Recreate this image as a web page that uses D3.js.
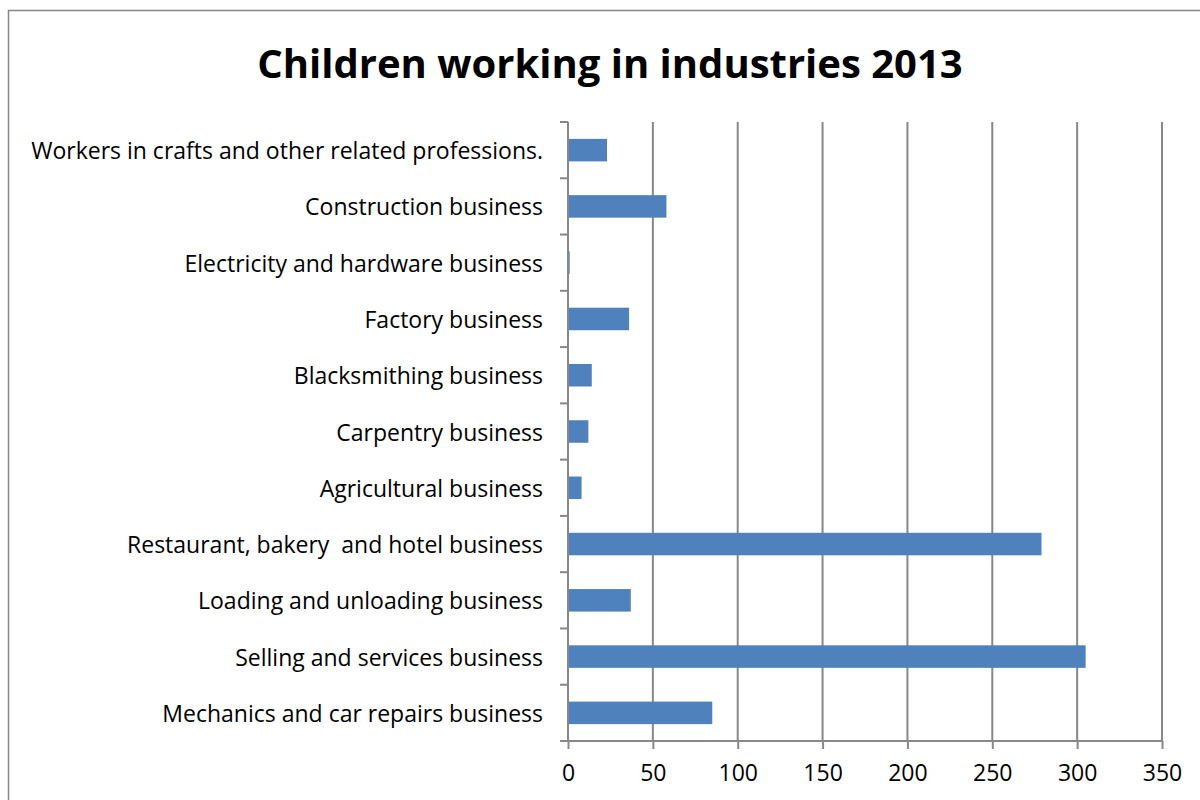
<!DOCTYPE html>
<html>
<head>
<meta charset="utf-8">
<script src="https://cdn.jsdelivr.net/npm/d3@7"></script>
<style>
  body { margin: 0; background: #fff; }
  svg { display: block; }
  text { white-space: pre; }
</style>
</head>
<body>
<div id="chart"></div>
<script>
// categories listed top to bottom as in the chart
const categories = [
  "Workers in crafts and other related professions.",
  "Construction business",
  "Electricity and hardware business",
  "Factory business",
  "Blacksmithing business",
  "Carpentry business",
  "Agricultural business",
  "Restaurant, bakery  and hotel business",
  "Loading and unloading business",
  "Selling and services business",
  "Mechanics and car repairs business"
];
const values = [23, 58, 1, 36, 14, 12, 8, 279, 37, 305, 85];
const xTicks = [0, 50, 100, 150, 200, 250, 300, 350];
const title = "Children working in industries 2013";

const width = 1200, height = 800;
const margin = { top: 122, right: 38, bottom: 59, left: 568 };
const font = "'Open Sans', Lato, sans-serif";

const svg = d3.select("#chart")
  .append("svg")
  .attr("width", width)
  .attr("height", height);

// outer chart frame (runs off the right and bottom edges)
svg.append("rect")
  .attr("x", 8.5)
  .attr("y", 10.5)
  .attr("width", 1300)
  .attr("height", 900)
  .attr("fill", "none")
  .attr("stroke", "#868686")
  .attr("stroke-width", 1.5);

svg.append("text")
  .attr("x", 610)
  .attr("y", 78)
  .attr("text-anchor", "middle")
  .style("font-family", font)
  .style("font-size", "40px")
  .style("font-weight", "bold")
  .text(title);

const x = d3.scaleLinear()
  .domain([0, 350])
  .range([margin.left, width - margin.right]);

const y = d3.scaleBand()
  .domain(categories)
  .range([margin.top, height - margin.bottom])
  .paddingInner(0.6)
  .paddingOuter(0.3);

const plotBottom = height - margin.bottom;

// vertical gridlines
svg.append("g")
  .selectAll("line")
  .data(xTicks.slice(1))
  .enter()
  .append("line")
  .attr("x1", d => x(d))
  .attr("x2", d => x(d))
  .attr("y1", margin.top)
  .attr("y2", plotBottom)
  .attr("stroke", "#888")
  .attr("stroke-width", 2);

// bars
svg.append("g")
  .selectAll("rect")
  .data(values)
  .enter()
  .append("rect")
  .attr("x", x(0))
  .attr("y", (d, i) => y(categories[i]))
  .attr("width", d => x(d) - x(0))
  .attr("height", y.bandwidth())
  .attr("fill", "#4f81bd");

// category axis
const yAxis = svg.append("g")
  .attr("transform", `translate(${x(0)},0)`);
yAxis.append("line")
  .attr("x1", 0).attr("x2", 0)
  .attr("y1", margin.top).attr("y2", plotBottom)
  .attr("stroke", "#888").attr("stroke-width", 2);
const boundaries = d3.range(categories.length + 1).map(i => margin.top + i * (plotBottom - margin.top) / categories.length);
yAxis.selectAll("line.tick")
  .data(boundaries)
  .enter()
  .append("line")
  .attr("class", "tick")
  .attr("x1", -8).attr("x2", 0)
  .attr("y1", d => d).attr("y2", d => d)
  .attr("stroke", "#888").attr("stroke-width", 2);
yAxis.selectAll("text")
  .data(categories)
  .enter()
  .append("text")
  .attr("x", -25)
  .attr("y", d => y(d) + y.bandwidth() / 2 + 1)
  .attr("dy", "0.35em")
  .attr("text-anchor", "end")
  .style("font-family", font)
  .style("font-size", "23px")
  .attr("fill", "#000")
  .text(d => d);

// value axis
const xAxis = svg.append("g")
  .attr("transform", `translate(0,${plotBottom})`)
  .call(d3.axisBottom(x).tickValues(xTicks).tickSize(8).tickPadding(16));
xAxis.select(".domain")
  .attr("d", `M${x(0) - 8},0H${x(350)}`)
  .attr("stroke", "#888")
  .attr("stroke-width", 2);
xAxis.selectAll(".tick line")
  .attr("stroke", "#888")
  .attr("stroke-width", 2);
xAxis.selectAll(".tick text")
  .style("font-family", font)
  .style("font-size", "23px")
  .attr("fill", "#000");
</script>
</body>
</html>
